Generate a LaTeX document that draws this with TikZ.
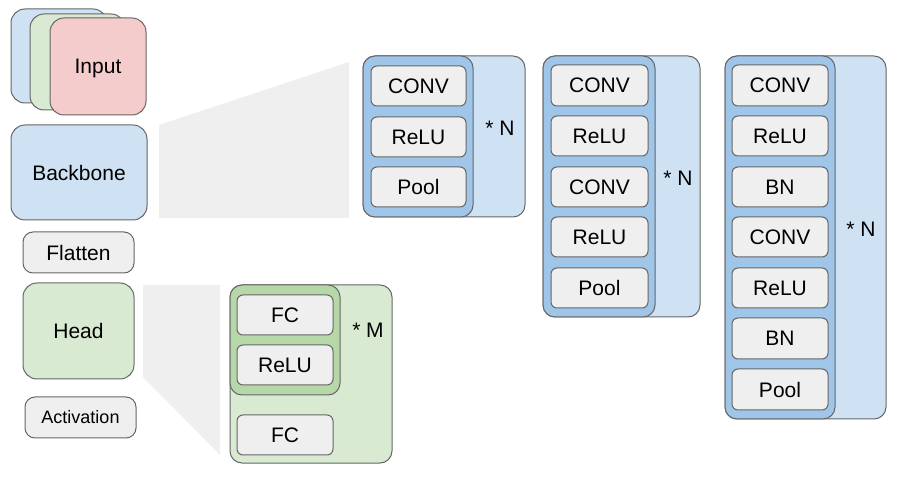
\documentclass[tikz,border=0pt]{standalone}
\usepackage{fontspec}
\setmainfont{Liberation Sans}
\definecolor{edge}{HTML}{666666}
\definecolor{boxgray}{HTML}{EFEFEF}
\definecolor{zoomgray}{HTML}{EFEFEF}
\definecolor{lblue}{HTML}{CFE2F3}
\definecolor{dblue}{HTML}{9FC5E8}
\definecolor{lgreen}{HTML}{D9EAD3}
\definecolor{dgreen}{HTML}{B6D7A8}
\definecolor{lpink}{HTML}{F4CCCC}
\tikzset{
  part/.style={draw=edge, line width=0.5pt, rounded corners=7pt},
  block/.style={draw=edge, line width=0.5pt, rounded corners=6pt},
  layer/.style={draw=edge, fill=boxgray, line width=0.5pt, rounded corners=3pt},
}
\begin{document}
\begin{tikzpicture}[x=0.5pt,y=-0.5pt,font=\fontsize{10.5}{12}\selectfont]
\useasboundingbox (0,0) rectangle (910,480);
% zoom shades
\fill[zoomgray] (159,125) -- (349,62) -- (349,218) -- (159,218) -- cycle;
\fill[zoomgray] (143,285) -- (220,285) -- (220,455) -- (143,377) -- cycle;
% overview column
\draw[part,fill=lblue] (11,9) rectangle (107,103);
\draw[part,fill=lgreen] (30,14) rectangle (125,110);
\draw[part,fill=lpink] (50,18) rectangle (146,115) node[pos=0.5,yshift=-1pt] (input) {Input};
\draw[part,fill=lblue] (11,125) rectangle (147,220) node[pos=0.5] (backbone) {Backbone};
\draw[layer,rounded corners=5pt] (23,232) rectangle (134,273) node[pos=0.5] (flatten) {Flatten};
\draw[part,fill=lgreen] (23,283) rectangle (134,379) node[pos=0.5] (head) {Head};
\draw[layer,rounded corners=5pt] (25,397) rectangle (136,438) node[pos=0.5,font=\fontsize{9}{10}\selectfont] (activation) {Activation};
% backbone variant 1
\draw[block,fill=lblue] (363,56) rectangle (525,217);
\draw[block,fill=dblue] (363,56) rectangle (473,217);
\draw[layer] (371,66) rectangle (466,106) node[pos=0.5] (aconv) {CONV};
\draw[layer] (371,117) rectangle (466,157) node[pos=0.5] (arelu) {ReLU};
\draw[layer] (371,167) rectangle (466,207) node[pos=0.5] (apool) {Pool};
\node (arep) at (500,128) {* N};
% backbone variant 2
\draw[block,fill=lblue] (543,56) rectangle (700,317);
\draw[block,fill=dblue] (543,56) rectangle (655,317);
\draw[layer] (551,65) rectangle (648,106) node[pos=0.5] (bconva) {CONV};
\draw[layer] (551,116) rectangle (648,156) node[pos=0.5] (brelua) {ReLU};
\draw[layer] (551,167) rectangle (648,207) node[pos=0.5] (bconvb) {CONV};
\draw[layer] (551,217) rectangle (648,257) node[pos=0.5] (brelub) {ReLU};
\draw[layer] (551,268) rectangle (648,308) node[pos=0.5] (bpool) {Pool};
\node (brep) at (678,178) {* N};
% backbone variant 3
\draw[block,fill=lblue] (725,56) rectangle (886,419);
\draw[block,fill=dblue] (725,56) rectangle (835,419);
\draw[layer] (732,65) rectangle (828,106) node[pos=0.5] (cconva) {CONV};
\draw[layer] (732,116) rectangle (828,156) node[pos=0.5] (crelua) {ReLU};
\draw[layer] (732,167) rectangle (828,207) node[pos=0.5] (cbna) {BN};
\draw[layer] (732,217) rectangle (828,257) node[pos=0.5] (cconvb) {CONV};
\draw[layer] (732,268) rectangle (828,308) node[pos=0.5] (crelub) {ReLU};
\draw[layer] (732,318) rectangle (828,359) node[pos=0.5] (cbnb) {BN};
\draw[layer] (732,369) rectangle (828,410) node[pos=0.5] (cpool) {Pool};
\node (crep) at (861,229) {* N};
% head detail
\draw[block,fill=lgreen] (230,285) rectangle (392,463);
\draw[block,fill=dgreen] (230,285) rectangle (340,395);
\draw[layer] (237,295) rectangle (333,335) node[pos=0.5] (hfca) {FC};
\draw[layer] (237,345) rectangle (333,385) node[pos=0.5] (hrelu) {ReLU};
\draw[layer] (237,415) rectangle (333,455) node[pos=0.5] (hfcb) {FC};
\node (hrep) at (368,330) {* M};
\end{tikzpicture}
\end{document}
